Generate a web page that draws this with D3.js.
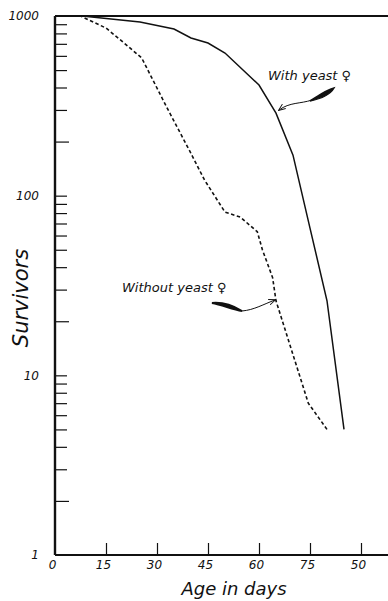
<!DOCTYPE html>
<html>
<head>
<meta charset="utf-8">
<script src="https://cdn.jsdelivr.net/npm/d3@7"></script>
<style>
  body { margin: 0; background: #fff; }
  text { font-family: "DejaVu Sans", sans-serif; font-style: italic; fill: #111; }
</style>
</head>
<body>
<div id="chart"></div>
<script>
// survivors per 1000 (log scale) by age in days
const withYeastDays = [0, 8, 25, 35, 40, 45, 50, 60, 65, 70, 75, 80, 85]
const withYeastVals = [1000, 1000, 926, 846, 754, 707, 622, 413, 288, 168, 66, 26, 5]
const withoutYeastDays = [0, 7.5, 15, 20, 25.5, 33, 39.5, 44, 50, 54.5, 59.5, 61, 64, 65, 74.5, 80]
const withoutYeastVals = [1000, 1000, 857, 716, 584, 307, 179, 122, 81, 76, 63, 50, 35, 26, 7, 5]
const xTicks = [15, 30, 45, 60, 75, 90]
const xTickLabels = ['0', '15', '30', '45', '60', '75', '50']
const yMajor = [1, 10, 100, 1000]
const yLabels = ['1', '10', '100', '1000']

const width = 388, height = 601
const svg = d3.select('#chart').append('svg').attr('width', width).attr('height', height)

const x = d3.scaleLinear().domain([0, 98]).range([55, 388.2])
const y = d3.scaleLog().domain([1, 1000]).range([555, 16])

// minor log ticks 2..9 in each decade
var minor = []
for (var dec = 1; dec < 1000; dec *= 10) {
  for (var k = 2; k <= 9; k++) minor.push(dec * k)
}

svg.append('g')
  .attr('transform', 'translate(55,0)')
  .call(d3.axisRight(y).tickValues(minor.concat([10, 100])).tickSize(12).tickFormat(''))
  .call(g => g.select('.domain').remove())
  .call(g => g.selectAll('.tick line').attr('stroke', '#111').attr('stroke-width', 1.2)
    .attr('x2', d => (String(d)[0] === '2' ? 14 : 12)))

svg.append('g')
  .attr('transform', 'translate(42,0)')
  .call(d3.axisLeft(y).tickValues(yMajor).tickSize(0).tickFormat((d, i) => yLabels[i]))
  .call(g => g.select('.domain').remove())
  .call(g => g.selectAll('text').attr('font-size', 12).attr('font-family', '"DejaVu Sans", sans-serif')
    .attr('font-style', 'italic').attr('fill', '#111').attr('dx', 0))

svg.append('g')
  .attr('transform', 'translate(0,555)')
  .call(d3.axisTop(x).tickValues(xTicks).tickSize(12).tickFormat(''))
  .call(g => g.select('.domain').remove())
  .call(g => g.selectAll('.tick line').attr('stroke', '#111').attr('stroke-width', 1.2))

svg.append('g')
  .attr('transform', 'translate(-3,555)')
  .call(d3.axisBottom(x).tickValues([0].concat(xTicks)).tickSize(0).tickFormat((d, i) => xTickLabels[i]))
  .call(g => g.select('.domain').remove())
  .call(g => g.selectAll('text').attr('font-size', 12).attr('font-family', '"DejaVu Sans", sans-serif')
    .attr('font-style', 'italic').attr('fill', '#111').attr('dy', '0.95em'))

// frame: left axis, bottom axis, top line
svg.append('path')
  .attr('d', 'M' + x(0) + ',' + y(1) + 'L' + x(98) + ',' + y(1))
  .attr('stroke', '#111').attr('stroke-width', 2.2).attr('fill', 'none')
svg.append('path')
  .attr('d', 'M' + x(0) + ',' + y(1000) + 'L' + x(98) + ',' + y(1000))
  .attr('stroke', '#111').attr('stroke-width', 2).attr('fill', 'none')
svg.append('path')
  .attr('d', 'M' + x(0) + ',' + y(1000) + 'L' + x(0) + ',' + y(1))
  .attr('stroke', '#111').attr('stroke-width', 2.4).attr('fill', 'none')

const line = d3.line().x(d => x(d[0])).y(d => y(d[1]))

var withData = withYeastDays.map((d, i) => [d, withYeastVals[i]])
var withoutData = withoutYeastDays.map((d, i) => [d, withoutYeastVals[i]])

svg.append('path')
  .datum(withData)
  .attr('d', line)
  .attr('fill', 'none').attr('stroke', '#111').attr('stroke-width', 1.5)

svg.append('path')
  .datum(withoutData)
  .attr('d', line)
  .attr('fill', 'none').attr('stroke', '#111').attr('stroke-width', 1.6)
  .attr('stroke-dasharray', '3.5,2.5')

// axis titles
svg.append('text')
  .attr('x', 234).attr('y', 595)
  .attr('text-anchor', 'middle').attr('font-size', 18)
  .text('Age in days')

svg.append('text')
  .attr('transform', 'translate(28,298) rotate(-90)')
  .attr('text-anchor', 'middle').attr('font-size', 21)
  .text('Survivors')

// annotations with swoosh arrows
svg.append('defs').append('marker')
  .attr('id', 'head').attr('viewBox', '0 0 10 10').attr('refX', 9).attr('refY', 5)
  .attr('markerWidth', 7).attr('markerHeight', 7).attr('orient', 'auto-start-reverse')
  .append('path').attr('d', 'M0,1L10,5L0,9').attr('fill', 'none').attr('stroke', '#111').attr('stroke-width', 1.3)

svg.append('text')
  .attr('x', 268).attr('y', 80).attr('font-size', 13)
  .text('With yeast \u2640')

svg.append('path')
  .attr('d', 'M334,88 C326,90 318,96 310,101 C320,99 330,95 334,88 Z')
  .attr('fill', '#111').attr('stroke', '#111').attr('stroke-width', 1.5)
svg.append('path')
  .attr('d', 'M312,100 C300,104 290,102 279,110')
  .attr('fill', 'none').attr('stroke', '#111').attr('stroke-width', 1)
  .attr('marker-end', 'url(#head)')

svg.append('text')
  .attr('x', 122).attr('y', 292).attr('font-size', 13)
  .text('Without yeast \u2640')

svg.append('path')
  .attr('d', 'M212,303 C222,305 232,309 242,311 C232,305 222,302 212,303 Z')
  .attr('fill', '#111').attr('stroke', '#111').attr('stroke-width', 2)
svg.append('path')
  .attr('d', 'M242,311 C254,310 264,304 275,300')
  .attr('fill', 'none').attr('stroke', '#111').attr('stroke-width', 1)
  .attr('marker-end', 'url(#head)')
</script>
</body>
</html>
